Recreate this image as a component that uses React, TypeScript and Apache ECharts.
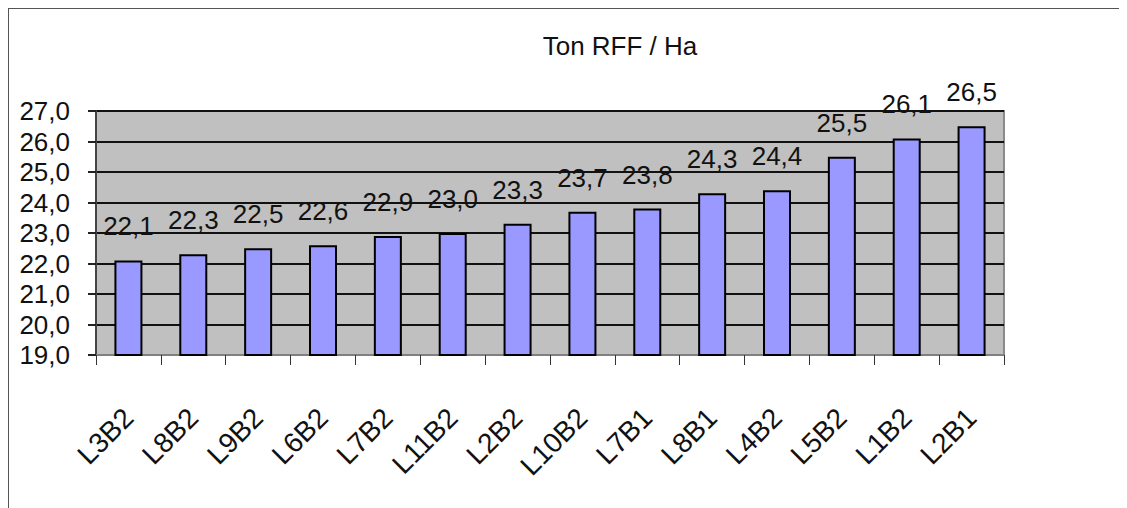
import React, { useEffect, useRef } from "react";
import * as echarts from "echarts";

const categories = ["L3B2", "L8B2", "L9B2", "L6B2", "L7B2", "L11B2", "L2B2", "L10B2", "L7B1", "L8B1", "L4B2", "L5B2", "L1B2", "L2B1"];
const values = [22.1, 22.3, 22.5, 22.6, 22.9, 23.0, 23.3, 23.7, 23.8, 24.3, 24.4, 25.5, 26.1, 26.5];
const titleText = "Ton RFF / Ha";
const yMin = 19;
const yMax = 27;
const yInterval = 1;

const FONT = "'Liberation Sans', Arial, sans-serif";
const fmt = (v: number) => v.toFixed(1).replace(".", ",");

export default function App() {
  const ref = useRef<HTMLDivElement>(null);
  useEffect(() => {
    if (!ref.current) return;
    const chart = echarts.init(ref.current, undefined, { renderer: "svg" });
    chart.setOption({
      animation: false,
      backgroundColor: "#ffffff",
      textStyle: { fontFamily: FONT },
      graphic: [
        { type: "line", shape: { x1: 0, y1: 0, x2: 1119, y2: 0 }, style: { stroke: "#555", lineWidth: 2 } },
        { type: "line", shape: { x1: 0, y1: 0, x2: 0, y2: 500 }, style: { stroke: "#555", lineWidth: 2 } },
        {
          type: "text",
          x: 612,
          y: 25,
          style: { text: titleText, fontSize: 26, fontFamily: FONT, fill: "#111", textAlign: "center", textVerticalAlign: "top" },
        },
      ],
      grid: {
        left: 88,
        top: 103,
        right: 123,
        bottom: 153,
        show: true,
        backgroundColor: "#C0C0C0",
        borderColor: "#8a8a8a",
        borderWidth: 2,
      },
      xAxis: {
        type: "category",
        data: categories,
        axisLine: { show: true, lineStyle: { color: "#808080", width: 2 } },
        axisTick: { show: true, length: 10, lineStyle: { color: "#333", width: 1 } },
        axisLabel: {
          rotate: 45,
          margin: 58,
          fontSize: 28,
          fontFamily: FONT,
          color: "#111",
          interval: 0,
        },
        splitLine: { show: false },
      },
      yAxis: {
        type: "value",
        min: yMin,
        max: yMax,
        interval: yInterval,
        axisLine: { show: true, lineStyle: { color: "#444", width: 2 } },
        axisTick: { show: true, length: 8, lineStyle: { color: "#222", width: 2 } },
        axisLabel: {
          formatter: (v: number) => fmt(v),
          fontSize: 26,
          lineHeight: 28,
          fontFamily: FONT,
          color: "#111",
          margin: 26,
        },
        splitLine: { show: true, lineStyle: { color: "#111", width: 2 } },
      },
      series: [
        {
          type: "bar",
          data: values,
          barWidth: 28,
          itemStyle: { color: "#9999FF", borderColor: "#000", borderWidth: 2 },
          label: {
            show: true,
            position: "top",
            distance: 21,
            fontSize: 26,
            fontFamily: FONT,
            color: "#111",
            formatter: (p: any) => fmt(p.value),
          },
        },
      ],
    });
    return () => chart.dispose();
  }, []);
  return <div ref={ref} style={{ width: 1119, height: 500 }} />;
}
